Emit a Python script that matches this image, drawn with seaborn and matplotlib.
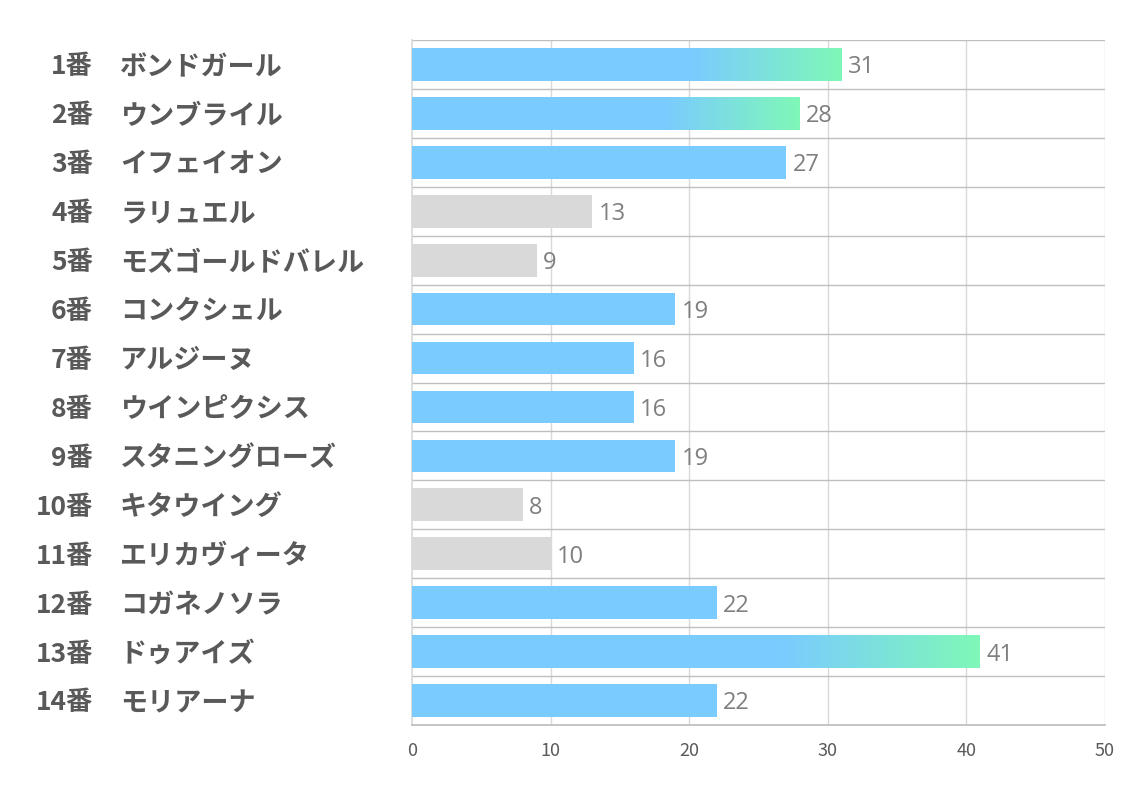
import numpy as np
import pandas as pd
import matplotlib
matplotlib.use('Agg')
import matplotlib.pyplot as plt
import matplotlib.transforms as mtransforms
from matplotlib.colors import LinearSegmentedColormap
import seaborn as sns

# data
numbers = ['1番', '2番', '3番', '4番', '5番', '6番', '7番', '8番', '9番',
           '10番', '11番', '12番', '13番', '14番']
names = ['ボンドガール', 'ウンブライル', 'イフェイオン', 'ラリュエル', 'モズゴールドバレル',
         'コンクシェル', 'アルジーヌ', 'ウインピクシス', 'スタニングローズ', 'キタウイング',
         'エリカヴィータ', 'コガネノソラ', 'ドゥアイズ', 'モリアーナ']
values = [31, 28, 27, 13, 9, 19, 16, 16, 19, 8, 10, 22, 41, 22]
kinds = ['grad', 'grad', 'blue', 'gray', 'gray', 'blue', 'blue', 'blue', 'blue',
         'gray', 'gray', 'blue', 'grad', 'blue']
x_ticks = [0, 10, 20, 30, 40, 50]

blue = '#7ACBFF'
green = '#7FF8B8'
gray = '#D9D9D9'

sns.set_theme(style='white')
plt.rcParams['font.family'] = ['Noto Sans CJK JP', 'DejaVu Sans']

fig = plt.figure(figsize=(11.34, 7.93), dpi=100)
ax = fig.add_axes([412 / 1134, 1 - 725 / 793, (1105 - 412) / 1134, (725 - 40) / 793])

df = pd.DataFrame({'label': [n + ' ' + m for n, m in zip(numbers, names)],
                   'value': values, 'kind': kinds})
palette = {'grad': blue, 'blue': blue, 'gray': gray}
sns.barplot(data=df, y='label', x='value', hue='kind', palette=palette, dodge=False,
            width=0.67, legend=False, ax=ax, orient='h', saturation=1, zorder=3,
            linewidth=0, edgecolor='none')

# gradient on the right part of the top bars
cmap = LinearSegmentedColormap.from_list('bg', [blue, green])
grad = np.linspace(0, 1, 256).reshape(1, -1)
bh = 0.67
for i, (v, k) in enumerate(zip(values, kinds)):
    if k == 'grad':
        ax.imshow(grad, cmap=cmap, aspect='auto', zorder=4,
                  extent=[0.65 * v, v, i + bh / 2, i - bh / 2], interpolation='bicubic')
    ax.text(v + 0.45, i + 0.06, str(v), ha='left', va='center', fontsize=17,
            color='#7F7F7F', zorder=5, family=['Open Sans', 'DejaVu Sans'])

ax.set_xlim(0, 50)
ax.set_ylim(len(values) - 0.5, -0.5)

# grid lines
for x in x_ticks[1:]:
    ax.axvline(x, color='#D9D9D9', lw=1, zorder=1)
for j in range(len(values) + 1):
    ax.axhline(j - 0.5, color='#BFBFBF', lw=1, zorder=1)
for s in ['top', 'right']:
    ax.spines[s].set_visible(False)
ax.spines['left'].set_color('#D9D9D9')
ax.spines['bottom'].set_color('#BFBFBF')

ax.set_xticks(x_ticks)
ax.set_xticklabels([str(t) for t in x_ticks], fontsize=13, color='#595959')
ax.tick_params(axis='x', length=0, pad=12)
ax.set_yticks([])
ax.set_xlabel('')
ax.set_ylabel('')

# row labels, number right-aligned and name left-aligned
trans = mtransforms.blended_transform_factory(fig.transFigure, ax.transData)
for i, (n, m) in enumerate(zip(numbers, names)):
    ax.text(93 / 1134, i + 0.05, n, transform=trans, ha='right', va='center', fontsize=19,
            fontweight='bold', color='#595959', clip_on=False)
    ax.text(120 / 1134, i + 0.05, m, transform=trans, ha='left', va='center', fontsize=19.5,
            fontweight='bold', color='#595959', clip_on=False)

fig.savefig('out.png', dpi=100)
